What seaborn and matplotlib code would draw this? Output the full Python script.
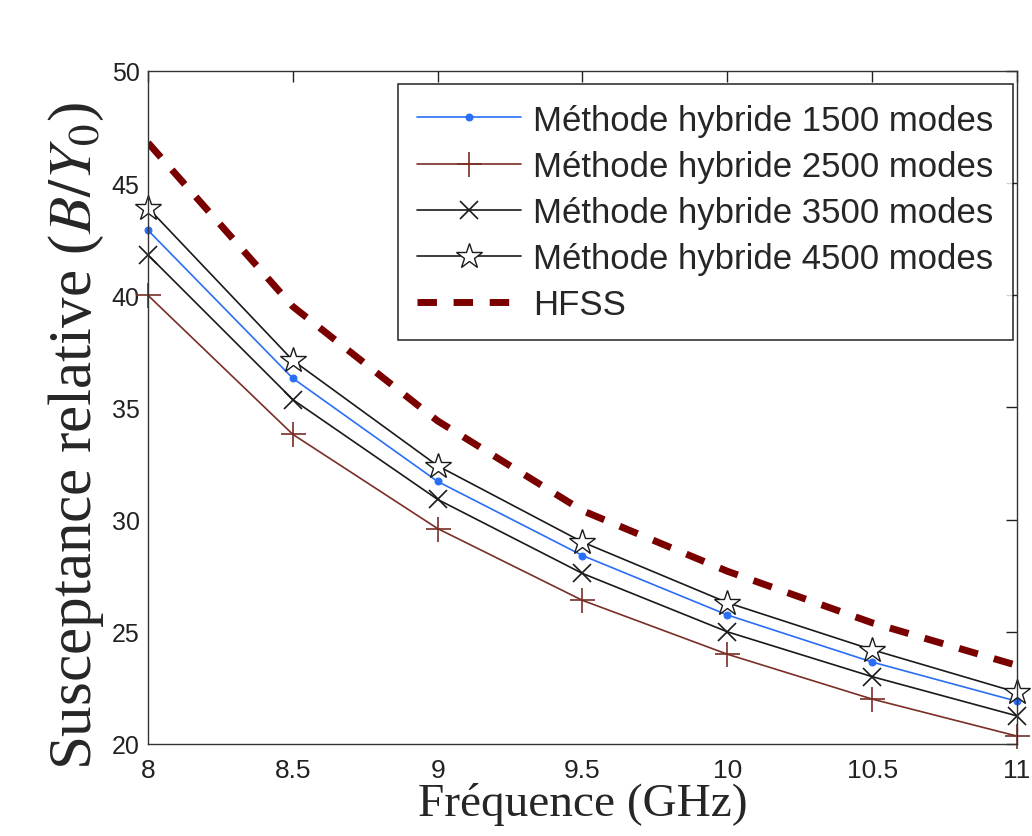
import pandas as pd
import matplotlib
matplotlib.use("Agg")
import matplotlib.pyplot as plt
import seaborn as sns

# data
freq = [8.0, 8.5, 9.0, 9.5, 10.0, 10.5, 11.0]
modes_1500 = [42.9, 36.3, 31.7, 28.4, 25.75, 23.65, 21.9]
modes_2500 = [40.0, 33.8, 29.6, 26.4, 24.0, 22.0, 20.35]
modes_3500 = [41.8, 35.35, 30.9, 27.6, 25.0, 23.0, 21.25]
modes_4500 = [43.9, 37.1, 32.4, 29.0, 26.3, 24.2, 22.3]
hfss = [46.8, 39.5, 34.4, 30.4, 27.7, 25.4, 23.5]

sns.set_style("white")
plt.rcParams["font.family"] = ["Liberation Sans", "DejaVu Sans"]
plt.rcParams["mathtext.fontset"] = "stix"

fig = plt.figure(figsize=(10.32, 8.37), dpi=100)
ax = fig.add_axes([0.1434, 0.110, 0.842, 0.804])

series = [
    ("Méthode hybride 1500 modes", modes_1500,
     dict(color="#2a6ef5", marker="o", markersize=5, lw=1.2, mfc="#2a6ef5", mec="#2a6ef5")),
    ("Méthode hybride 2500 modes", modes_2500,
     dict(color="#7a2e26", marker="+", markersize=18, lw=1.2, mew=1.2, mec="#7a2e26")),
    ("Méthode hybride 3500 modes", modes_3500,
     dict(color="#1a1a1a", marker="x", markersize=13, lw=1.2, mew=1.2, mec="#1a1a1a")),
    ("Méthode hybride 4500 modes", modes_4500,
     dict(color="#1a1a1a", marker="*", markersize=19, lw=1.2, mew=1.0, mfc="white", mec="#1a1a1a")),
]

for name, vals, kw in series:
    df = pd.DataFrame({"f": freq, "b": vals})
    sns.lineplot(data=df, x="f", y="b", ax=ax, label=name, clip_on=False, **kw)

df_h = pd.DataFrame({"f": freq, "b": hfss})
sns.lineplot(data=df_h, x="f", y="b", ax=ax, label="HFSS", color="#7a0000", lw=5)
ax.lines[-1].set_linestyle((0, (2.8, 2.4)))

ax.set_xlim(8, 11)
ax.set_ylim(20, 50)
ax.set_xticks([8, 8.5, 9, 9.5, 10, 10.5, 11])
ax.set_xticklabels(["8", "8.5", "9", "9.5", "10", "10.5", "11"])
ax.set_yticks([20, 25, 30, 35, 40, 45, 50])
ax.tick_params(direction="in", length=8, width=1, top=True, right=True,
               colors="#222222")
ax.tick_params(axis="x", labelsize=19, pad=10)
ax.tick_params(axis="y", labelsize=18, pad=6)
for s in ax.spines.values():
    s.set_color("#333333")
    s.set_linewidth(1.0)

ax.set_xlabel("Fréquence (GHz)", family="Liberation Serif", fontsize=34, labelpad=0)
ax.set_ylabel("Susceptance relative ($B/Y_0$)", family="Liberation Serif", fontsize=44)
ax.yaxis.set_label_coords(-0.048, 0.46)

leg = ax.legend(loc="upper right", bbox_to_anchor=(0.995, 0.98), fontsize=25,
                frameon=True, fancybox=False, edgecolor="black", handlelength=3.0,
                borderpad=0.55, labelspacing=0.38, handletextpad=0.35, borderaxespad=0)
leg.get_frame().set_linewidth(1.2)

fig.savefig("out.png", dpi=100)
